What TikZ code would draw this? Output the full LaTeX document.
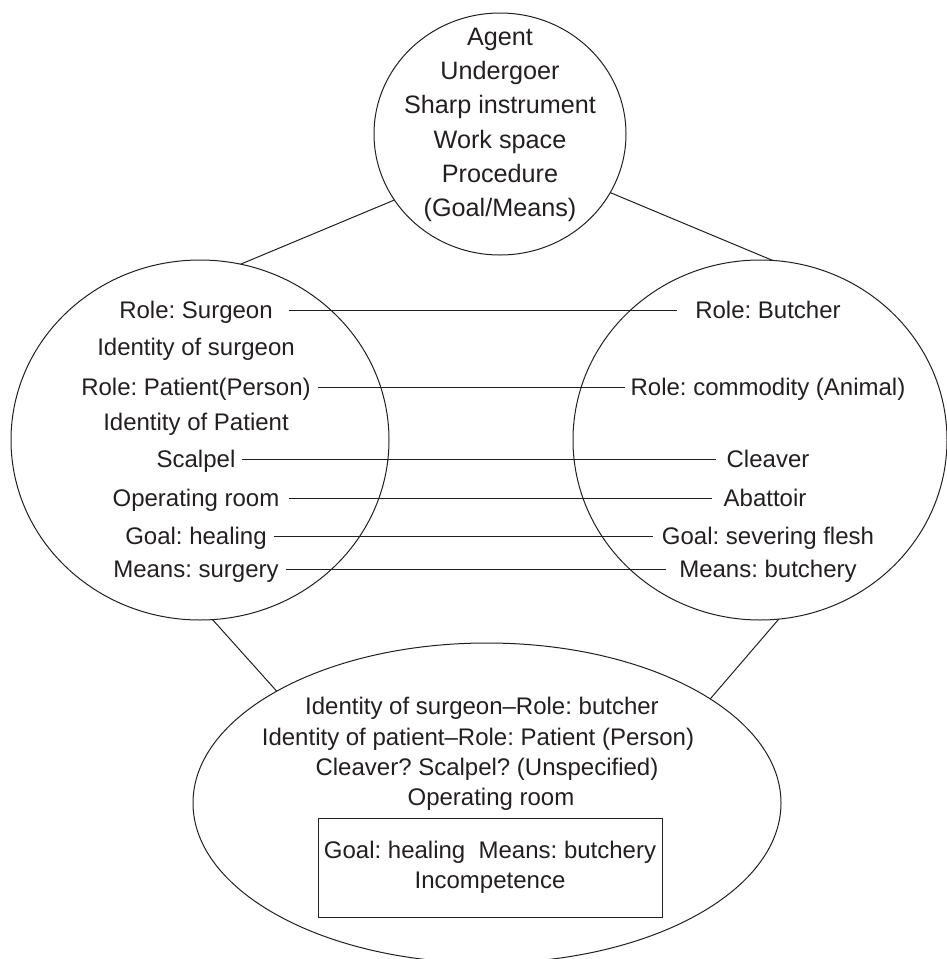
\documentclass[tikz,border=0pt]{standalone}
\usepackage{fontspec}
\setmainfont{Liberation Sans}
\usetikzlibrary{shapes.geometric}
\definecolor{ink}{HTML}{231F20}
\frenchspacing
\begin{document}
\begin{tikzpicture}[x=0.5pt,y=-0.5pt,
  frame/.style={draw=ink, line width=0.5pt, ellipse, inner sep=0pt, outer sep=0pt},
  lbl/.style={text=ink, font=\fontsize{12}{14}\selectfont, inner sep=0pt, outer sep=0pt,
    text height=8.6pt, text depth=0pt},
  toplbl/.style={lbl, font=\fontsize{12.6}{14}\selectfont, text height=9pt},
  link/.style={draw=ink, line width=0.5pt}]
\useasboundingbox (0,0) rectangle (947,959);

% the four frames and the inner box
\node[frame, minimum width=126pt, minimum height=121pt] (top) at (500,134) {};
\node[frame, minimum width=189pt, minimum height=180pt] (left) at (200,440) {};
\node[frame, minimum width=187pt, minimum height=180pt] (right) at (760,440) {};
\node[frame, minimum width=294pt, minimum height=160pt] (bottom) at (487,803) {};
\node[draw=ink, line width=0.5pt, inner sep=0pt, outer sep=0pt,
  minimum width=172pt, minimum height=49.5pt] (box) at (490,867.5) {};

% generic frame
\node[toplbl] (t1) at (500,36.5) {Agent};
\node[toplbl] (t2) at (500,70.5) {Undergoer};
\node[toplbl] (t3) at (500,104.5) {Sharp instrument};
\node[toplbl] (t4) at (500,139.5) {Work space};
\node[toplbl] (t5) at (500,173.5) {Procedure};
\node[toplbl] (t6) at (500,207.5) {(Goal/Means)};

% surgery
\node[lbl] (l1) at (196,310) {Role: Surgeon};
\node[lbl] (l2) at (196,347) {Identity of surgeon};
\node[lbl] (l3) at (196,387) {Role: Patient(Person)};
\node[lbl] (l4) at (196,422) {Identity of Patient};
\node[lbl] (l5) at (196,459) {Scalpel};
\node[lbl] (l6) at (196,498) {Operating room};
\node[lbl] (l7) at (196,536) {Goal: healing};
\node[lbl] (l8) at (196,569) {Means: surgery};

% butchery
\node[lbl] (r1) at (768,310) {Role: Butcher};
\node[lbl] (r2) at (768,387) {Role: commodity (Animal)};
\node[lbl] (r3) at (768,459) {Cleaver};
\node[lbl] (r4) at (765,498) {Abattoir};
\node[lbl] (r5) at (768,536) {Goal: severing flesh};
\node[lbl] (r6) at (768,569) {Means: butchery};

% blend
\node[lbl] (b1) at (482,706) {Identity of surgeon–Role: butcher};
\node[lbl] (b2) at (478,737) {Identity of patient–Role: Patient (Person)};
\node[lbl] (b3) at (487,767) {Cleaver? Scalpel? (Unspecified)};
\node[lbl] (b4) at (491,797) {Operating room};
\node[lbl] (x1) at (490,850) {Goal: healing\ \ Means: butchery};
\node[lbl] (x2) at (490,880) {Incompetence};

% links between the frames
\draw[link] (top.-148.7) -- (left.77.5);
\draw[link] (top.-28.2) -- (right.86.8);
\draw[link] (left.-86.2) -- (bottom.152.8);
\draw[link] (right.-84.3) -- (bottom.25.2);

% cross-space mappings
\draw[link, shorten <=8pt, shorten >=9pt] (l1.east) -- (r1.west);
\draw[link, shorten <=3.5pt, shorten >=3pt] (l3.east) -- (r2.west);
\draw[link, shorten <=3.5pt, shorten >=5.5pt] (l5.east) -- (r3.west);
\draw[link, shorten <=5pt, shorten >=6pt] (l6.east) -- (r4.west);
\draw[link, shorten <=3.5pt, shorten >=4.5pt] (l7.east) -- (r5.west);
\draw[link, shorten <=3.5pt, shorten >=6.5pt] (l8.east) -- (r6.west);
\end{tikzpicture}
\end{document}
